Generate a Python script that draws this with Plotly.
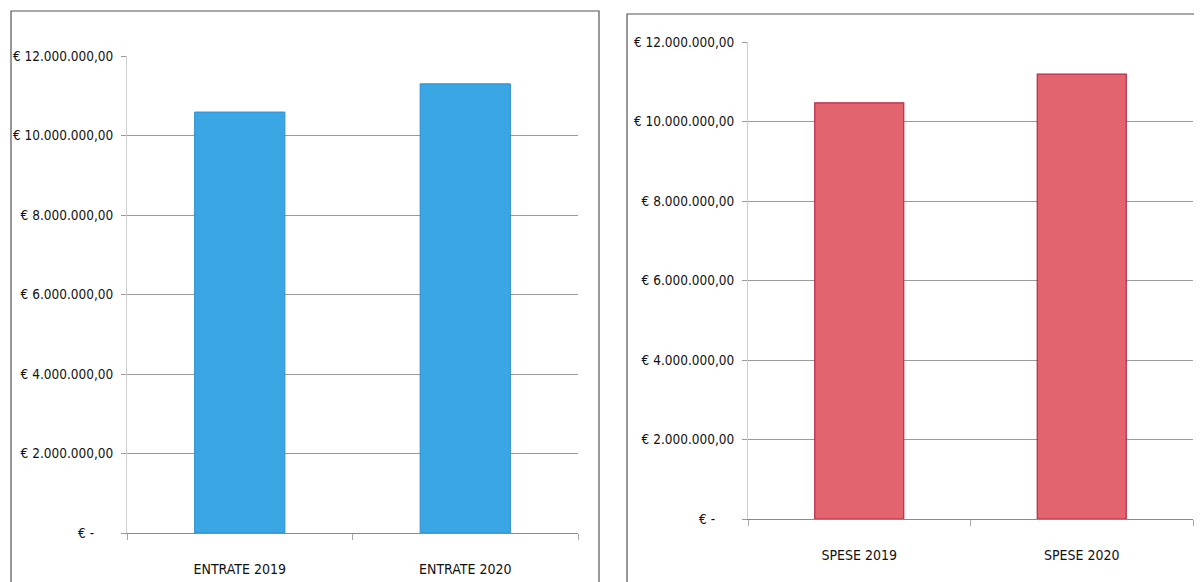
import plotly.graph_objects as go

# ---- data ----
entrate_categories = ["ENTRATE 2019", "ENTRATE 2020"]
entrate_values = [10590000, 11300000]
spese_categories = ["SPESE 2019", "SPESE 2020"]
spese_values = [10470000, 11190000]
y_tickvals = [0, 2000000, 4000000, 6000000, 8000000, 10000000, 12000000]
y_ticktext = ["€ -     ", "€ 2.000.000,00", "€ 4.000.000,00", "€ 6.000.000,00",
              "€ 8.000.000,00", "€ 10.000.000,00", "€ 12.000.000,00"]

W, H = 1202, 582
OFF = 8  # page body margin offset
FONT = "DejaVu Sans Condensed, sans-serif"

def px_x(v):
    return (v - OFF) / W

def px_y(v):
    return 1 - (v - OFF) / H

fig = go.Figure()
fig.add_trace(go.Bar(x=entrate_categories, y=entrate_values, xaxis="x", yaxis="y",
                     marker=dict(color="#3aa6e4", line=dict(color="#2f8fd0", width=1)),
                     width=0.4, showlegend=False))
fig.add_trace(go.Bar(x=spese_categories, y=spese_values, xaxis="x2", yaxis="y2",
                     marker=dict(color="#e2646f", line=dict(color="#b52a45", width=1.2)),
                     width=0.4, showlegend=False))

common_y = dict(range=[0, 12000000], tickvals=y_tickvals, ticktext=y_ticktext,
                showgrid=True, gridcolor="#9a9a9a", gridwidth=1,
                ticks="outside", ticklen=5, tickcolor="#9a9a9a",
                showline=True, linecolor="#cfcfcf", linewidth=1,
                zeroline=False, tickfont=dict(family=FONT, size=13.5, color="#111"),
                ticklabelstandoff=5, fixedrange=True, automargin=False)
common_x = dict(showgrid=False, ticks="outside", ticklen=6, tickcolor="#aaaaaa",
                tickson="boundaries", showline=True, linecolor="#8a8a8a", linewidth=1,
                tickfont=dict(family=FONT, size=14, color="#111"),
                ticklabelstandoff=23, fixedrange=True, automargin=False)

fig.update_layout(
    width=W, height=H,
    margin=dict(l=0, r=0, t=0, b=0, pad=0, autoexpand=False),
    paper_bgcolor="white", plot_bgcolor="white",
    xaxis=dict(domain=[px_x(127), px_x(578)], anchor="y", **common_x),
    yaxis=dict(domain=[px_y(533), px_y(56)], anchor="x", **common_y),
    xaxis2=dict(domain=[px_x(748), px_x(1193)], anchor="y2", **common_x),
    yaxis2=dict(domain=[px_y(519), px_y(42)], anchor="x2", **common_y),
    shapes=[
        dict(type="rect", xref="paper", yref="paper",
             x0=px_x(11), x1=px_x(599), y0=px_y(595), y1=px_y(11),
             line=dict(color="#555", width=1.2)),
        dict(type="rect", xref="paper", yref="paper",
             x0=px_x(627), x1=px_x(1215), y0=px_y(595), y1=px_y(14),
             line=dict(color="#555", width=1.2)),
    ],
)

fig.write_html("out.html")
